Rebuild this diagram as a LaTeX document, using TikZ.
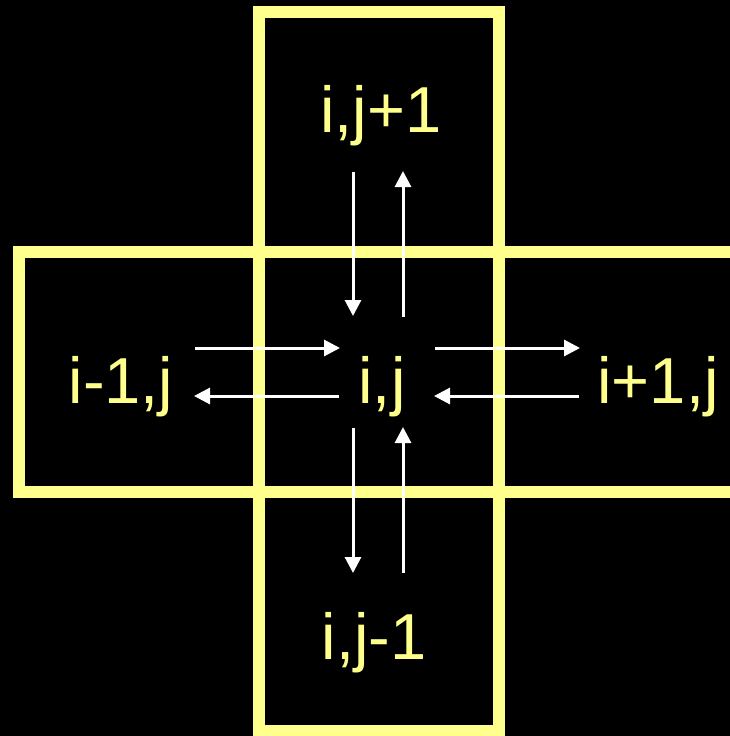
\documentclass[tikz,border=0pt]{standalone}
\usepackage{fontspec}
\setmainfont{Liberation Sans}
\usetikzlibrary{arrows.meta}
\definecolor{cellyellow}{RGB}{255,255,140}
\tikzset{
  cell/.style={draw=cellyellow, line width=12pt},
  lbl/.style={text=cellyellow, font=\fontsize{65}{65}\selectfont, anchor=base, inner sep=0pt},
  flow/.style={draw=white, line width=3pt, -{Triangle[length=16pt,width=16pt]}}
}
\begin{document}
\begin{tikzpicture}[x=1pt,y=-1pt]
\fill[black] (0,0) rectangle (730,736);
\useasboundingbox (0,0) rectangle (730,736);
\begin{scope}
\clip (0,0) rectangle (730,736);
\draw[cell] (259,12) rectangle (499,730.5);
\draw[cell] (19,252) rectangle (760,492);
\end{scope}
\node[lbl] (top) at (381,132) {i,j+1};
\node[lbl] (mid) at (382,403) {i,j};
\node[lbl] (left) at (121,403) {i-1,j};
\node[lbl] (right) at (658,403) {i+1,j};
\node[lbl] (bot) at (374,659) {i,j-1};
% arrow endpoints
\coordinate (t1s) at (353,172); \coordinate (t1e) at (353,316);
\coordinate (t2s) at (403,317); \coordinate (t2e) at (403,171);
\coordinate (b1s) at (353,428); \coordinate (b1e) at (353,573);
\coordinate (b2s) at (403,573); \coordinate (b2e) at (403,427);
\coordinate (l1s) at (195,348); \coordinate (l1e) at (340,348);
\coordinate (l2s) at (339,396); \coordinate (l2e) at (194,396);
\coordinate (r1s) at (435,348); \coordinate (r1e) at (580,348);
\coordinate (r2s) at (579,396); \coordinate (r2e) at (434,396);
\draw[flow] (t1s) -- (t1e);
\draw[flow] (t2s) -- (t2e);
\draw[flow] (b1s) -- (b1e);
\draw[flow] (b2s) -- (b2e);
\draw[flow] (l1s) -- (l1e);
\draw[flow] (l2s) -- (l2e);
\draw[flow] (r1s) -- (r1e);
\draw[flow] (r2s) -- (r2e);
\end{tikzpicture}
\end{document}
